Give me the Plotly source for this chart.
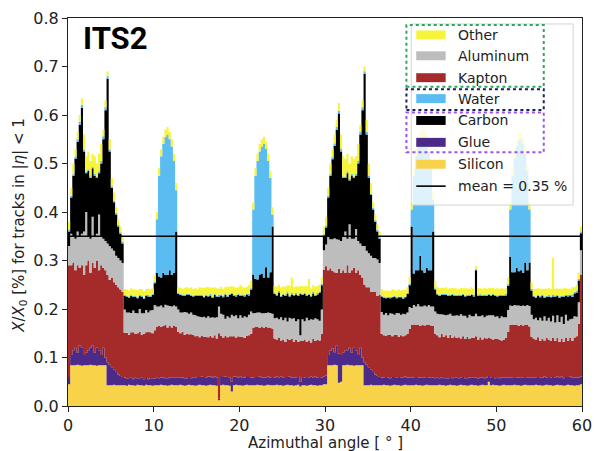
import plotly.graph_objects as go

# Material budget per 0.25 degree azimuthal bin, X/X0 in percent, |eta| < 1
BIN_WIDTH = 0.25
MEAN_VALUE = 0.35

silicon = [
    .045, .084, .084, .084, .085, .084, .083, .084, .084, .084, .085, .084, .084, .083, .084, .084, .084, .084, .043, .043,
    .043, .044, .043, .043, .043, .043, .043, .042, .044, .043, .043, .042, .044, .043, .043, .042, .044, .043, .043, .042,
    .043, .043, .043, .044, .043, .043, .042, .043, .044, .043, .043, .043, .044, .043, .042, .043, .044, .043, .043, .042,
    .043, .044, .043, .043, .042, .043, .044, .043, .043, .042, .012, .043, .044, .043, .043, .042, .030, .043, .044, .043,
    .043, .042, .043, .044, .043, .043, .043, .043, .044, .043, .043, .042, .043, .044, .043, .043, .043, .044, .043, .043,
    .042, .043, .044, .043, .043, .042, .043, .044, .040, .043, .043, .042, .043, .044, .043, .043, .042, .043, .043, .045,
    .045, .084, .084, .084, .085, .084, .048, .050, .084, .084, .085, .084, .084, .083, .084, .084, .084, .084, .043, .043,
    .043, .044, .043, .043, .043, .043, .043, .044, .043, .043, .042, .043, .044, .043, .043, .042, .043, .044, .043, .043,
    .043, .043, .044, .043, .043, .042, .043, .044, .043, .043, .043, .043, .043, .044, .043, .043, .042, .043, .044, .043,
    .043, .042, .043, .044, .043, .043, .042, .043, .044, .043, .043, .042, .043, .044, .043, .043, .050, .043, .044, .043,
    .043, .042, .043, .044, .043, .043, .043, .043, .044, .043, .043, .042, .043, .044, .043, .043, .043, .043, .044, .043,
    .043, .042, .043, .044, .043, .043, .042, .043, .044, .043, .043, .042, .043, .044, .043, .043, .042, .043, .043, .045,
]

glue = [
    .015, .021, .031, .036, .025, .041, .037, .021, .026, .031, .035, .041, .026, .037, .031, .021, .036, .016, .047, .042,
    .037, .031, .027, .022, .019, .017, .016, .014, .013, .015, .012, .016, .013, .014, .015, .013, .016, .012, .014, .015,
    .013, .015, .014, .015, .016, .014, .015, .016, .014, .015, .015, .015, .014, .016, .015, .013, .016, .014, .015, .016,
    .017, .016, .018, .017, .016, .018, .017, .016, .018, .017, .003, .019, .016, .018, .017, .016, .020, .018, .017, .016,
    .018, .017, .016, .018, .017, .016, .016, .017, .016, .018, .016, .017, .016, .017, .016, .017, .016, .017, .016, .018,
    .016, .017, .016, .018, .016, .017, .016, .018, .010, .017, .016, .018, .016, .017, .016, .018, .016, .017, .016, .016,
    .018, .021, .030, .035, .026, .040, .060, .055, .026, .031, .030, .036, .026, .037, .031, .021, .036, .016, .047, .042,
    .037, .031, .027, .022, .019, .017, .016, .015, .017, .016, .015, .017, .016, .015, .017, .016, .015, .017, .016, .016,
    .016, .015, .016, .015, .016, .016, .015, .016, .016, .015, .016, .014, .015, .013, .016, .014, .015, .013, .016, .014,
    .015, .016, .014, .015, .017, .014, .015, .016, .014, .015, .016, .014, .016, .015, .014, .016, .012, .015, .016, .014,
    .017, .015, .016, .014, .016, .015, .016, .015, .016, .015, .016, .016, .015, .016, .016, .015, .015, .016, .014, .017,
    .015, .016, .018, .015, .017, .016, .018, .015, .017, .016, .018, .015, .017, .016, .018, .015, .017, .016, .016, .016,
]

kapton = [
    .230, .185, .180, .160, .180, .160, .170, .165, .180, .185, .155, .170, .175, .180, .165, .185, .165, .180, .180, .175,
    .185, .180, .180, .180, .178, .175, .092, .095, .090, .094, .097, .091, .093, .096, .089, .094, .092, .098, .095, .093,
    .100, .105, .108, .104, .106, .110, .105, .107, .104, .108, .105, .095, .092, .094, .090, .093, .088, .091, .089, .086,
    .085, .082, .084, .083, .085, .081, .084, .082, .085, .080, .135, .083, .081, .084, .082, .086, .094, .083, .080, .085,
    .082, .084, .081, .083, .086, .090, .102, .104, .103, .100, .105, .102, .104, .101, .103, .100, .080, .076, .082, .074,
    .079, .072, .078, .075, .080, .073, .077, .070, .084, .074, .078, .072, .076, .070, .079, .073, .078, .075, .090, .220,
    .225, .175, .170, .160, .165, .150, .175, .170, .170, .160, .175, .155, .170, .165, .160, .175, .150, .165, .160, .160,
    .165, .160, .165, .170, .165, .170, .090, .087, .085, .088, .090, .084, .087, .089, .083, .088, .086, .085, .090, .100,
    .108, .110, .107, .110, .106, .110, .108, .107, .109, .108, .106, .092, .088, .085, .090, .086, .089, .084, .087, .083,
    .086, .082, .085, .080, .084, .081, .086, .079, .083, .082, .085, .080, .083, .078, .084, .080, .079, .081, .077, .082,
    .078, .080, .076, .079, .081, .095, .108, .110, .107, .110, .106, .110, .108, .107, .109, .106, .085, .080, .078, .082,
    .076, .080, .074, .081, .077, .075, .080, .076, .079, .073, .078, .075, .080, .074, .079, .076, .082, .085, .110, .210,
]

aluminum = [
    .040, .065, .055, .065, .070, .065, .065, .090, .110, .050, .070, .095, .065, .055, .115, .060, .060, .060, .065, .070,
    .060, .065, .060, .060, .060, .060, .048, .042, .046, .040, .045, .043, .041, .047, .044, .042, .046, .040, .045, .048,
    .052, .042, .040, .044, .038, .042, .045, .040, .043, .041, .042, .046, .043, .040, .047, .044, .042, .045, .041, .043,
    .040, .042, .038, .041, .039, .043, .037, .042, .036, .044, .055, .045, .047, .035, .043, .038, .044, .041, .046, .037,
    .044, .039, .045, .038, .042, .046, .030, .028, .030, .032, .027, .030, .029, .031, .030, .030, .042, .045, .038, .048,
    .040, .050, .036, .046, .041, .049, .039, .047, .012, .045, .038, .050, .042, .048, .040, .047, .043, .041, .050, .040,
    .045, .070, .060, .065, .070, .070, .060, .065, .070, .085, .055, .100, .065, .060, .090, .060, .065, .065, .080, .075,
    .070, .075, .070, .070, .075, .065, .045, .042, .047, .040, .044, .046, .041, .045, .048, .042, .046, .043, .044, .045,
    .035, .040, .038, .042, .040, .037, .041, .038, .040, .039, .040, .046, .044, .047, .040, .045, .041, .048, .043, .046,
    .042, .047, .044, .050, .042, .048, .039, .050, .044, .045, .046, .049, .043, .050, .042, .047, .046, .048, .050, .045,
    .047, .044, .050, .046, .043, .045, .040, .038, .041, .039, .042, .038, .041, .039, .040, .042, .045, .040, .046, .035,
    .048, .038, .050, .036, .045, .040, .046, .038, .047, .041, .045, .037, .048, .042, .039, .046, .044, .040, .045, .050,
]

carbon = [
    .030, .075, .125, .165, .185, .230, .260, .165, .080, .135, .125, .100, .125, .115, .085, .150, .205, .270, .340, .195,
    .125, .100, .085, .065, .055, .040, .028, .032, .030, .035, .028, .033, .031, .027, .034, .030, .029, .033, .028, .031,
    .045, .070, .062, .058, .072, .061, .063, .074, .065, .068, .155, .032, .036, .035, .033, .037, .039, .034, .038, .040,
    .042, .043, .044, .040, .045, .041, .046, .040, .047, .042, .020, .038, .036, .050, .040, .047, .043, .042, .039, .048,
    .040, .046, .041, .047, .040, .045, .080, .070, .068, .078, .081, .074, .094, .072, .084, .180, .050, .046, .055, .042,
    .052, .045, .058, .044, .050, .047, .055, .048, .085, .050, .056, .045, .052, .047, .054, .046, .051, .058, .050, .030,
    .035, .080, .130, .165, .190, .225, .260, .185, .120, .110, .135, .090, .130, .125, .110, .160, .225, .280, .355, .240,
    .155, .125, .100, .075, .058, .050, .032, .035, .030, .036, .031, .034, .037, .030, .033, .036, .031, .035, .038, .045,
    .168, .065, .075, .070, .105, .075, .068, .080, .072, .075, .155, .045, .040, .038, .040, .041, .042, .039, .038, .043,
    .041, .040, .042, .038, .043, .040, .045, .039, .044, .041, .090, .042, .043, .040, .045, .041, .042, .040, .042, .043,
    .041, .046, .042, .044, .045, .050, .100, .070, .068, .078, .071, .074, .068, .090, .072, .090, .050, .047, .041, .050,
    .042, .052, .038, .049, .044, .050, .040, .053, .040, .050, .042, .056, .039, .050, .049, .045, .047, .050, .045, .035,
]

water = [
    .004, .003, .003, .004, .005, .006, .006, .004, .003, .003, .003, .003, .004, .003, .004, .005, .006, .006, .005, .004,
    .003, .003, .003, .003, .003, .003, .002, .002, .003, .002, .002, .003, .002, .002, .003, .002, .002, .003, .002, .002,
    .003, .110, .208, .250, .265, .285, .290, .270, .265, .230, .085, .003, .002, .002, .003, .002, .002, .003, .002, .002,
    .003, .002, .003, .002, .003, .002, .003, .002, .003, .002, .005, .002, .003, .002, .003, .002, .003, .002, .003, .002,
    .003, .002, .003, .002, .003, .003, .134, .213, .244, .254, .263, .275, .244, .240, .194, .025, .003, .002, .003, .002,
    .003, .002, .003, .002, .003, .002, .003, .002, .003, .002, .003, .002, .003, .002, .003, .002, .003, .002, .003, .003,
    .004, .003, .004, .004, .005, .006, .006, .005, .003, .003, .004, .003, .004, .003, .004, .005, .006, .006, .005, .005,
    .004, .003, .003, .003, .003, .003, .002, .003, .002, .002, .003, .002, .002, .003, .002, .002, .003, .002, .002, .003,
    .035, .202, .235, .260, .240, .275, .280, .260, .245, .215, .065, .003, .002, .002, .003, .002, .002, .003, .002, .002,
    .003, .002, .002, .003, .002, .002, .003, .002, .002, .003, .002, .002, .003, .002, .002, .003, .002, .002, .003, .002,
    .002, .003, .002, .002, .003, .003, .098, .199, .234, .250, .270, .270, .265, .224, .205, .109, .003, .002, .003, .002,
    .003, .002, .003, .002, .003, .002, .004, .003, .002, .003, .002, .003, .002, .003, .002, .005, .003, .004, .003, .004,
]

other = [
    .016, .017, .022, .016, .015, .014, .013, .031, .032, .037, .032, .027, .036, .027, .036, .035, .014, .014, .010, .021,
    .017, .017, .012, .012, .012, .012, .012, .013, .012, .014, .013, .012, .015, .012, .013, .014, .012, .013, .014, .012,
    .014, .015, .015, .015, .015, .015, .015, .015, .015, .015, .015, .012, .013, .012, .014, .013, .012, .015, .013, .014,
    .012, .016, .014, .018, .015, .017, .014, .019, .013, .016, .012, .016, .015, .014, .018, .015, .014, .017, .015, .014,
    .020, .016, .015, .014, .018, .015, .015, .015, .015, .015, .015, .015, .015, .015, .015, .015, .014, .016, .013, .018,
    .015, .017, .014, .020, .032, .015, .014, .017, .014, .016, .013, .018, .030, .015, .014, .017, .015, .014, .013, .016,
    .018, .017, .022, .017, .019, .015, .016, .030, .042, .037, .036, .032, .036, .037, .036, .035, .014, .014, .010, .025,
    .026, .022, .012, .012, .012, .012, .013, .012, .014, .013, .012, .015, .012, .013, .014, .012, .015, .013, .012, .014,
    .015, .015, .015, .015, .015, .015, .015, .015, .015, .015, .015, .014, .013, .014, .012, .013, .014, .012, .013, .012,
    .014, .013, .012, .014, .012, .015, .013, .012, .014, .013, .006, .014, .012, .013, .014, .012, .013, .014, .012, .013,
    .015, .012, .014, .013, .012, .014, .015, .015, .015, .015, .015, .015, .015, .015, .015, .015, .014, .013, .016, .014,
    .015, .012, .016, .015, .014, .016, .075, .014, .013, .016, .014, .015, .014, .013, .012, .015, .010, .012, .013, .010,
]

# Stacking order from the bottom up
layers = [
    ("Silicon", silicon, "#f8d248"),
    ("Glue", glue, "#4b2a89"),
    ("Kapton", kapton, "#a52a2a"),
    ("Aluminum", aluminum, "#bdbdbd"),
    ("Carbon", carbon, "#000000"),
    ("Water", water, "#5bbcf2"),
    ("Other", other, "#f7f43c"),
]
legend_order = ["Other", "Aluminum", "Kapton", "Water", "Carbon", "Glue", "Silicon"]

n_bins = len(silicon)
for _, vals, _ in layers:
    assert len(vals) == n_bins
edges = [i * BIN_WIDTH for i in range(n_bins + 1)]
x_max = edges[-1]

fig = go.Figure()
for name, vals, color in layers:
    fig.add_trace(go.Scatter(
        x=edges, y=list(vals) + [vals[-1]],
        mode="lines", stackgroup="budget",
        line=dict(width=0, shape="hv", color=color),
        fillcolor=color, name=name, showlegend=False, hoverinfo="skip",
    ))

fig.add_trace(go.Scatter(
    x=[0, x_max], y=[MEAN_VALUE, MEAN_VALUE], mode="lines",
    line=dict(color="#000000", width=1.6), showlegend=False, hoverinfo="skip",
))

# Plot frame in pixels
L, R, T, B = 68, 592, 16, 406
W, H = 601, 451


def px(x):
    return (x - L) / (R - L)


def py(y):
    return (B - y) / (B - T)


FONT = "DejaVu Sans"
TEXT = "#222222"
shapes = []
annotations = []

# Legend frame
shapes.append(dict(type="rect", xref="paper", yref="paper", layer="above",
                   x0=px(418), x1=px(583), y0=py(204), y1=py(22),
                   fillcolor="rgba(255,255,255,0.8)",
                   line=dict(color="#d4d4d4", width=1)))

colors = {name: color for name, _, color in layers}
row_y = [33, 54, 76, 97, 119, 141, 163]
for name, yc in zip(legend_order, row_y):
    shapes.append(dict(type="rect", xref="paper", yref="paper", layer="above",
                       x0=px(423), x1=px(453), y0=py(yc + 4.5), y1=py(yc - 4.5),
                       fillcolor=colors[name], line=dict(width=0)))
    annotations.append(dict(text=name, xref="paper", yref="paper",
                            x=px(464), y=py(yc), xanchor="left", yanchor="middle",
                            showarrow=False, font=dict(family=FONT, size=14, color=TEXT)))

mean_y = 185
shapes.append(dict(type="line", xref="paper", yref="paper", layer="above",
                   x0=px(423), x1=px(453), y0=py(mean_y), y1=py(mean_y),
                   line=dict(color="#000000", width=1.6)))
annotations.append(dict(text=f"mean = {MEAN_VALUE:.2f} %", xref="paper", yref="paper",
                        x=px(464), y=py(mean_y), xanchor="left", yanchor="middle",
                        showarrow=False, font=dict(family=FONT, size=14, color=TEXT)))

# Dotted group boxes
for (y0, y1, col) in [(23, 85, "#2fa85a"), (87.5, 108.5, "#1b1f5e"), (111, 151, "#9c52f2")]:
    shapes.append(dict(type="rect", xref="paper", yref="paper", layer="above",
                       x0=px(413), x1=px(553), y0=py(y1), y1=py(y0),
                       fillcolor="rgba(0,0,0,0)",
                       line=dict(color=col, width=2, dash="dot")))

# Title inside the plot
annotations.append(dict(text="<b>ITS2</b>", xref="paper", yref="paper",
                        x=px(81), y=py(37), xanchor="left", yanchor="middle",
                        showarrow=False, font=dict(family="Roboto", size=31, color="#000000")))

# Axis titles
annotations.append(dict(text="Azimuthal angle [ ° ]", xref="paper", yref="paper",
                        x=px(331), y=py(443), xanchor="center", yanchor="middle",
                        showarrow=False, font=dict(family=FONT, size=15, color=TEXT)))
annotations.append(dict(text="<i>X</i>/<i>X</i><sub>0</sub> [%] for tracks in |<i>η</i>| &lt; 1",
                        xref="paper", yref="paper", x=px(19), y=py(224),
                        xanchor="center", yanchor="middle", textangle=-90,
                        showarrow=False, font=dict(family=FONT, size=15, color=TEXT)))

axis_common = dict(showgrid=False, zeroline=False, showline=True, mirror=True,
                   linecolor="#222222", linewidth=1, ticks="outside", ticklen=5,
                   tickwidth=1, tickcolor="#222222", ticklabeloverflow="allow",
                   tickfont=dict(family=FONT, size=16, color=TEXT))

fig.update_layout(
    width=W, height=H,
    margin=dict(l=L, r=W - R, t=T, b=H - B, pad=0),
    paper_bgcolor="white", plot_bgcolor="white",
    showlegend=False,
    xaxis=dict(range=[0, x_max], tickmode="array", tickvals=[0, 10, 20, 30, 40, 50, 60], **axis_common),
    yaxis=dict(range=[0, 0.8], tickmode="array", tickvals=[0, 0.1, 0.2, 0.3, 0.4, 0.5, 0.6, 0.7, 0.8],
               tickformat=".1f", **axis_common),
    shapes=shapes, annotations=annotations,
)

fig.write_html("out.html")
